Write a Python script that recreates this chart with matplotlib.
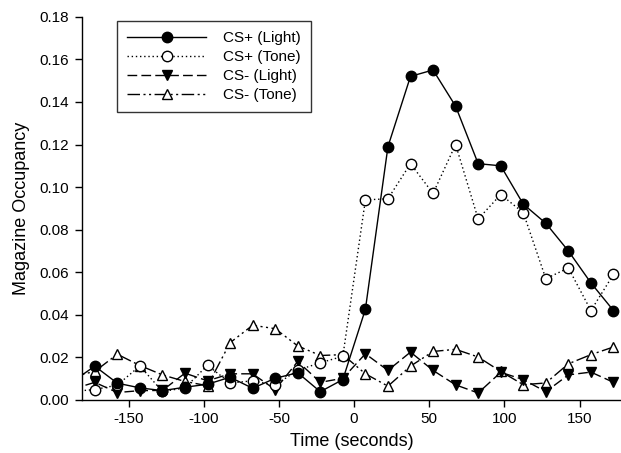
import matplotlib.pyplot as plt

plt.rcParams['font.family'] = ['Liberation Sans', 'DejaVu Sans']
plt.rcParams['axes.unicode_minus'] = False

# time bins (seconds), first bin sits just outside the visible range
time = [-187.5, -172.5, -157.5, -142.5, -127.5, -112.5, -97.5, -82.5, -67.5,
        -52.5, -37.5, -22.5, -7.5, 7.5, 22.5, 37.5, 52.5, 67.5, 82.5, 97.5,
        112.5, 127.5, 142.5, 157.5, 172.5]

cs_plus_light = [0.0085, 0.0159, 0.0079, 0.0057, 0.0044, 0.0060, 0.0074, 0.0107,
                 0.0055, 0.0102, 0.0128, 0.0039, 0.0096, 0.0426, 0.119, 0.152,
                 0.155, 0.138, 0.111, 0.110, 0.092, 0.083, 0.070, 0.055, 0.042]
cs_plus_tone = [0.0040, 0.0049, 0.0070, 0.0160, 0.0040, 0.0057, 0.0163, 0.0080,
                0.0090, 0.0070, 0.0140, 0.0175, 0.0205, 0.094, 0.0945, 0.111,
                0.097, 0.120, 0.085, 0.0965, 0.088, 0.057, 0.062, 0.042, 0.059]
cs_minus_light = [0.0050, 0.0083, 0.0035, 0.0044, 0.0045, 0.0126, 0.0090, 0.0123,
                  0.0123, 0.0049, 0.0181, 0.0083, 0.0102, 0.0217, 0.0139, 0.0225,
                  0.0139, 0.0071, 0.0033, 0.0130, 0.0096, 0.0039, 0.0118, 0.0131,
                  0.0083]
cs_minus_tone = [0.0110, 0.0134, 0.0215, 0.0162, 0.0118, 0.0087, 0.0067, 0.0269,
                 0.0351, 0.0335, 0.0254, 0.0209, 0.0213, 0.0123, 0.0065, 0.0159,
                 0.0228, 0.0238, 0.0202, 0.0134, 0.0072, 0.0080, 0.0170, 0.0213,
                 0.0249]

xticks = [-150, -100, -50, 0, 50, 100, 150]
yticks = [0.00, 0.02, 0.04, 0.06, 0.08, 0.10, 0.12, 0.14, 0.16, 0.18]

fig = plt.figure(figsize=(6.21, 4.53), dpi=100)
ax = fig.add_axes([0.132, 0.117, 0.868, 0.846])

ms = 7.5
lw = 1.0
ax.plot(time, cs_plus_light, color='black', lw=lw, ls='-', marker='o',
        ms=ms, mfc='black', mec='black', label='CS+ (Light)', zorder=5)
ax.plot(time, cs_plus_tone, color='black', lw=lw, ls=(0, (1, 2)), marker='o',
        ms=ms, mfc='white', mec='black', label='CS+ (Tone)', zorder=4)
ax.plot(time, cs_minus_light, color='black', lw=lw, ls=(0, (7, 3)), marker='v',
        ms=ms, mfc='black', mec='black', label='CS- (Light)', zorder=3)
ax.plot(time, cs_minus_tone, color='black', lw=lw,
        ls=(0, (9, 2.5, 1.5, 2.5, 1.5, 2.5)), marker='^',
        ms=ms, mfc='white', mec='black', label='CS- (Tone)', zorder=2)

ax.set_xlim(-181, 177.5)
ax.set_ylim(0, 0.18)
ax.set_xticks(xticks)
ax.set_yticks(yticks)
ax.set_yticklabels(['%.2f' % v for v in yticks])
ax.tick_params(direction='out', length=5, width=1, labelsize=11, pad=4)

ax.spines['top'].set_visible(False)
ax.spines['right'].set_visible(False)
ax.spines['left'].set_linewidth(1)
ax.spines['bottom'].set_linewidth(1)

ax.set_xlabel('Time (seconds)', fontsize=13, labelpad=5)
ax.set_ylabel('Magazine Occupancy', fontsize=13, labelpad=7)

leg = ax.legend(loc='upper left', bbox_to_anchor=(0.065, 0.988), borderaxespad=0,
                fancybox=False, framealpha=1, edgecolor='#333333', fontsize=11,
                handlelength=5.2, handletextpad=1.1, borderpad=0.65, labelspacing=0.32)
leg.get_frame().set_linewidth(1)

fig.savefig('out.png', dpi=100)
